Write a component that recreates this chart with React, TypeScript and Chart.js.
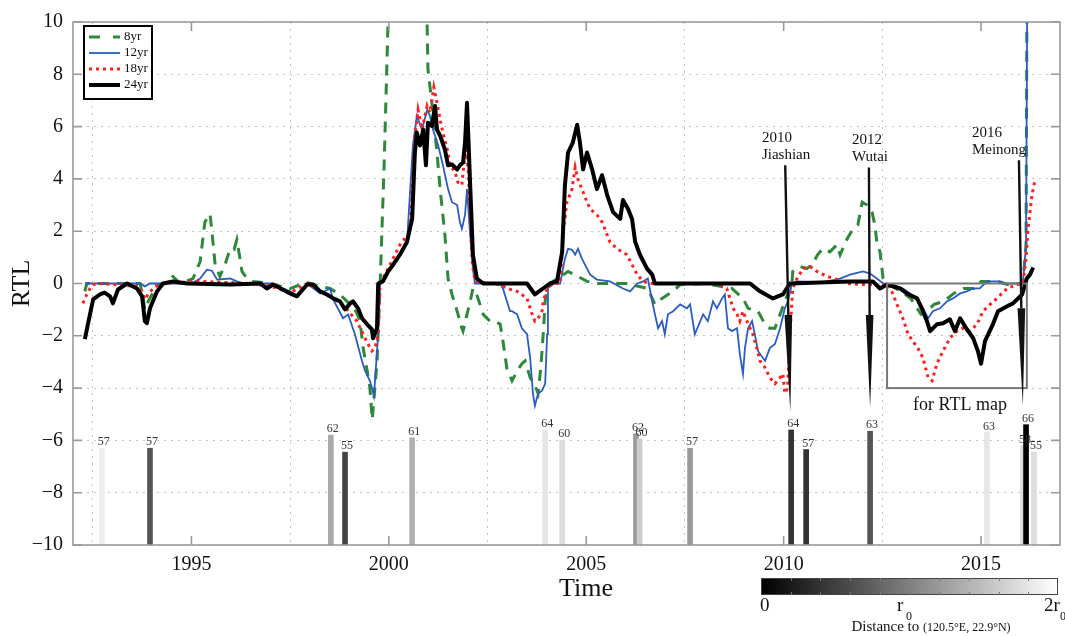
import React, { useEffect, useRef } from 'react';
import { Chart, registerables } from 'chart.js';

Chart.register(...registerables);

const SERIF = '"Liberation Serif", "Times New Roman", serif';

// ---------- DATA ----------
const xTicks = [1995, 2000, 2005, 2010, 2015];

const rtl8yr: [number, number][] = [
  [1992.30, -0.30], [1992.35, 0], [1993.70, 0], [1993.77, -0.5], [1993.82, -1.0], [1993.90, -0.7],
  [1994.00, -0.42], [1994.13, -0.04], [1994.33, 0], [1994.53, 0.27], [1994.71, 0], [1995.04, 0.19],
  [1995.22, 0.84], [1995.34, 2.35], [1995.47, 2.66], [1995.52, 1.98], [1995.60, 0.72], [1995.72, 0.27],
  [1995.85, 0.72], [1995.98, 1.33], [1996.08, 1.30], [1996.15, 1.67], [1996.23, 0.95], [1996.28, 0.46],
  [1996.41, 0.19], [1996.56, 0.08], [1997.0, 0], [1997.5, -0.2], [1997.9, 0.05], [1998.26, -0.11],
  [1998.51, -0.19], [1998.76, -0.42], [1998.94, -0.68], [1999.09, -0.87], [1999.19, -1.14],
  [1999.27, -1.44], [1999.35, -2.47], [1999.45, -3.34], [1999.52, -3.98], [1999.58, -5.2],
  [1999.70, -3.0], [1999.78, 0], [1999.88, 4.5], [1999.98, 10], [2000.04, 13], [2000.90, 13],
  [2000.97, 9.9], [2000.99, 8.2], [2001.09, 6.9], [2001.22, 5.0], [2001.30, 3.6], [2001.42, 1.86],
  [2001.50, 0.19], [2001.60, -0.42], [2001.73, -1.06], [2001.85, -1.71], [2001.88, -1.82],
  [2001.98, -1.18], [2002.06, -0.68], [2002.13, -0.19], [2002.20, -0.3], [2002.39, -1.18],
  [2002.56, -1.44], [2002.69, -1.44], [2002.82, -1.56], [2002.89, -2.2], [2002.99, -3.25],
  [2003.12, -3.72], [2003.25, -3.34], [2003.37, -3.07], [2003.45, -2.96], [2003.58, -3.6],
  [2003.70, -3.9], [2003.78, -4.2], [2003.85, -3.2], [2003.91, -1.94], [2003.96, -0.68],
  [2004.01, -0.19], [2004.08, 0], [2004.54, 0.46], [2004.79, 0.27], [2005.02, 0.08], [2005.3, 0],
  [2006.0, 0], [2006.56, -0.19], [2006.74, -0.8], [2006.92, -0.57], [2007.07, -0.42], [2007.20, -0.30],
  [2007.38, -0.04], [2008.0, 0], [2008.69, -0.19], [2008.97, -0.57], [2009.10, -0.95], [2009.35, -1.06],
  [2009.53, -1.56], [2009.65, -1.71], [2009.78, -1.71], [2009.91, -1.18], [2010.06, -0.57],
  [2010.21, -0.04], [2010.23, 0.46], [2010.41, 0.65], [2010.59, 0.57], [2010.74, 0.76], [2010.86, 1.10],
  [2010.99, 1.33], [2011.17, 1.21], [2011.35, 1.48], [2011.43, 1.10], [2011.61, 1.71], [2011.76, 2.09],
  [2011.88, 2.24], [2011.99, 3.11], [2012.11, 3.0], [2012.24, 2.73], [2012.31, 2.24], [2012.36, 1.59],
  [2012.44, 1.21], [2012.52, 0.19], [2012.62, 0], [2012.97, -0.30], [2013.22, -0.57], [2013.48, -1.18],
  [2013.63, -1.06], [2013.81, -0.80], [2014.06, -0.68], [2014.31, -0.38], [2014.57, -0.19],
  [2014.82, -0.19], [2015.0, 0.08], [2015.4, 0.08], [2015.66, -0.04], [2016.06, 0], [2016.14, 1.5],
  [2016.17, 14],
];

const rtl12yr: [number, number][] = [
  [1992.30, 0], [1993.70, 0], [1993.82, -0.11], [1993.95, 0], [1995.0, 0], [1995.22, 0.19],
  [1995.39, 0.53], [1995.52, 0.49], [1995.65, 0.15], [1995.98, 0.19], [1996.15, 0.08], [1996.3, 0],
  [1997.0, 0], [1997.5, -0.3], [1997.67, -0.45], [1997.93, 0], [1998.26, -0.38], [1998.51, -0.19],
  [1998.59, -0.61], [1998.84, -1.33], [1998.97, -1.18], [1999.14, -1.94], [1999.32, -2.96],
  [1999.40, -3.34], [1999.52, -3.72], [1999.57, -3.98], [1999.62, -4.3], [1999.65, -3.72],
  [1999.73, -1.94], [1999.78, 0], [1999.98, 0.46], [2000.28, 1.10], [2000.46, 1.59], [2000.61, 5.28],
  [2000.71, 6.41], [2000.84, 5.88], [2000.97, 6.64], [2001.04, 6.41], [2001.12, 5.88], [2001.25, 5.28],
  [2001.37, 4.52], [2001.50, 3.61], [2001.60, 3.11], [2001.73, 3.0], [2001.80, 2.35], [2001.85, 2.09],
  [2001.93, 2.62], [2001.98, 3.61], [2002.06, 1.86], [2002.13, 0.57], [2002.18, 0], [2002.82, 0],
  [2002.89, -0.19], [2002.99, -0.68], [2003.07, -1.06], [2003.12, -1.06], [2003.25, -1.18],
  [2003.37, -1.71], [2003.50, -1.94], [2003.58, -2.85], [2003.65, -4.21], [2003.70, -4.67],
  [2003.78, -4.21], [2003.88, -4.10], [2003.96, -3.83], [2004.01, -1.94], [2004.03, -0.19],
  [2004.16, 0], [2004.34, 0], [2004.46, 0.95], [2004.54, 1.33], [2004.64, 1.29], [2004.72, 1.10],
  [2004.79, 1.33], [2004.89, 0.95], [2005.02, 0.57], [2005.10, 0.34], [2005.27, 0.15], [2005.60, 0.08],
  [2005.93, -0.19], [2006.11, -0.30], [2006.29, 0], [2006.44, 0.08], [2006.56, 0.19], [2006.67, -0.68],
  [2006.74, -1.18], [2006.82, -1.71], [2006.92, -1.44], [2006.99, -1.94], [2007.07, -1.18],
  [2007.20, -1.06], [2007.38, -0.80], [2007.55, -0.95], [2007.63, -0.80], [2007.75, -1.94],
  [2007.96, -1.18], [2008.08, -1.44], [2008.21, -0.68], [2008.31, -0.95], [2008.44, -0.57],
  [2008.51, -0.42], [2008.59, -1.71], [2008.69, -1.82], [2008.82, -1.71], [2008.89, -2.69],
  [2008.97, -3.45], [2009.02, -2.47], [2009.10, -1.71], [2009.20, -1.44], [2009.27, -1.94],
  [2009.35, -2.58], [2009.53, -2.96], [2009.65, -2.47], [2009.78, -2.31], [2009.91, -1.71],
  [2010.03, -0.95], [2010.11, -0.68], [2010.21, 0], [2010.34, 0.08], [2011.0, 0.05], [2011.43, 0.19],
  [2011.68, 0.34], [2012.01, 0.46], [2012.19, 0.38], [2012.36, 0.19], [2012.52, 0], [2012.77, -0.04],
  [2013.02, -0.19], [2013.20, -0.38], [2013.38, -0.57], [2013.53, -0.95], [2013.66, -1.33],
  [2013.78, -1.06], [2013.96, -0.95], [2014.14, -0.68], [2014.29, -0.57], [2014.47, -0.38],
  [2014.64, -0.30], [2014.80, -0.19], [2014.97, -0.19], [2015.15, 0.08], [2015.48, 0.08],
  [2015.66, 0], [2016.06, 0], [2016.14, 1.48], [2016.18, 14],
];

const rtl18yr: [number, number][] = [
  [1992.25, -0.76], [1992.35, -0.42], [1992.43, -0.19], [1992.51, -0.04], [1992.68, 0],
  [1993.62, -0.11], [1993.75, -0.30], [1993.82, -0.61], [1993.90, -0.42], [1994.03, -0.19],
  [1994.20, 0], [1995.22, 0.08], [1996.5, 0], [1997.0, -0.1], [1997.5, -0.35], [1997.93, 0],
  [1998.26, -0.3], [1998.59, -0.55], [1998.89, -0.9], [1999.19, -1.44], [1999.35, -1.94],
  [1999.47, -2.31], [1999.57, -2.58], [1999.65, -2.47], [1999.73, -1.94], [1999.78, 0],
  [1999.98, 0.57], [2000.28, 1.48], [2000.54, 1.98], [2000.66, 5.65], [2000.74, 6.64], [2000.84, 5.88],
  [2000.97, 6.79], [2001.04, 6.53], [2001.14, 7.5], [2001.22, 6.91], [2001.30, 6.26], [2001.37, 5.77],
  [2001.48, 5.12], [2001.55, 4.52], [2001.68, 4.25], [2001.75, 3.87], [2001.85, 3.76], [2001.88, 4.25],
  [2001.95, 5.12], [2002.01, 4.36], [2002.11, 0.84], [2002.18, 0.08], [2002.82, -0.04],
  [2002.99, -0.19], [2003.25, -0.30], [2003.50, -0.57], [2003.63, -1.18], [2003.70, -1.44],
  [2003.78, -1.33], [2003.88, -1.06], [2003.91, -0.68], [2004.01, -0.19], [2004.16, 0], [2004.34, 0],
  [2004.41, 1.86], [2004.51, 3.11], [2004.64, 3.61], [2004.72, 4.44], [2004.79, 3.98], [2004.89, 3.61],
  [2005.02, 3.11], [2005.10, 2.85], [2005.27, 2.62], [2005.40, 2.35], [2005.47, 2.09], [2005.60, 1.59],
  [2005.78, 1.33], [2005.91, 1.21], [2006.03, 1.10], [2006.16, 0.72], [2006.29, 0.34], [2006.44, 0.08],
  [2006.62, 0], [2008.31, 0], [2008.56, -0.19], [2008.64, -0.57], [2008.72, -0.95], [2008.82, -1.18],
  [2008.89, -1.44], [2008.97, -1.06], [2009.07, -1.44], [2009.15, -1.71], [2009.22, -1.94],
  [2009.32, -2.47], [2009.40, -2.96], [2009.53, -3.22], [2009.65, -3.60], [2009.78, -3.83],
  [2009.91, -3.60], [2009.98, -3.45], [2010.03, -4.2], [2010.10, -4.0], [2010.16, -1.94],
  [2010.23, -0.19], [2010.34, 0.19], [2010.49, 0.57], [2010.67, 0.65], [2010.84, 0.46], [2011.10, 0.27],
  [2011.35, 0.15], [2011.61, 0], [2011.94, -0.04], [2012.26, -0.04], [2012.44, -0.11], [2012.62, 0],
  [2012.74, -0.30], [2012.87, -0.80], [2013.02, -1.33], [2013.15, -1.94], [2013.27, -2.20],
  [2013.40, -2.47], [2013.53, -2.85], [2013.66, -3.6], [2013.76, -3.72], [2013.88, -3.07],
  [2014.04, -2.58], [2014.21, -2.09], [2014.39, -1.82], [2014.54, -1.71], [2014.72, -1.82],
  [2014.90, -1.56], [2015.05, -1.06], [2015.23, -0.80], [2015.40, -0.57], [2015.66, -0.19],
  [2015.91, -0.04], [2016.06, 0], [2016.14, 0.95], [2016.19, 2.09], [2016.29, 3.38], [2016.37, 3.98],
];

const rtl24yr: [number, number][] = [
  [1992.30, -2.13], [1992.43, -1.18], [1992.51, -0.61], [1992.68, -0.42], [1992.80, -0.35],
  [1992.94, -0.49], [1993.01, -0.76], [1993.14, -0.23], [1993.37, 0], [1993.62, -0.19],
  [1993.75, -0.49], [1993.82, -1.44], [1993.87, -1.52], [1993.95, -0.95], [1994.13, -0.30],
  [1994.28, 0], [1994.53, 0.08], [1994.89, 0], [1995.98, -0.04], [1996.74, 0], [1996.91, -0.19],
  [1997.07, -0.04], [1997.50, -0.38], [1997.67, -0.49], [1997.93, -0.04], [1998.08, -0.04],
  [1998.26, -0.30], [1998.43, -0.42], [1998.59, -0.57], [1998.76, -0.68], [1998.89, -0.99],
  [1999.02, -0.76], [1999.09, -0.68], [1999.22, -0.95], [1999.32, -1.33], [1999.45, -1.56],
  [1999.57, -1.75], [1999.60, -2.09], [1999.70, -1.71], [1999.73, 0], [1999.85, 0.08],
  [1999.98, 0.46], [2000.11, 0.72], [2000.28, 1.10], [2000.46, 1.59], [2000.59, 2.47],
  [2000.66, 5.01], [2000.71, 5.77], [2000.79, 5.28], [2000.87, 5.88], [2000.94, 4.52],
  [2000.99, 6.15], [2001.09, 6.03], [2001.17, 6.79], [2001.22, 5.88], [2001.30, 5.65],
  [2001.42, 5.12], [2001.50, 4.52], [2001.60, 4.55], [2001.73, 4.36], [2001.80, 4.52],
  [2001.88, 4.63], [2001.93, 5.39], [2001.98, 6.91], [2002.06, 3.76], [2002.13, 1.10],
  [2002.23, 0.19], [2002.39, 0], [2003.50, 0], [2003.70, -0.42], [2004.08, 0], [2004.26, 0.08],
  [2004.39, 1.21], [2004.46, 3.76], [2004.54, 5.01], [2004.66, 5.39], [2004.77, 6.07],
  [2004.84, 5.39], [2004.92, 4.36], [2005.02, 5.01], [2005.15, 4.36], [2005.27, 3.61],
  [2005.40, 4.14], [2005.53, 3.38], [2005.68, 2.73], [2005.86, 2.47], [2005.93, 3.19],
  [2006.06, 2.85], [2006.16, 2.47], [2006.24, 1.59], [2006.36, 1.10], [2006.54, 0.57],
  [2006.67, 0.34], [2006.74, 0], [2009.15, 0], [2009.40, -0.30], [2009.73, -0.57], [2009.98, -0.42],
  [2010.16, 0], [2011.68, 0.08], [2012.26, 0.08], [2012.44, -0.19], [2012.62, -0.04],
  [2012.95, -0.19], [2013.12, -0.38], [2013.38, -0.57], [2013.50, -0.95], [2013.63, -1.44],
  [2013.71, -1.82], [2013.88, -1.56], [2014.04, -1.52], [2014.21, -1.37], [2014.34, -1.82],
  [2014.47, -1.33], [2014.64, -1.75], [2014.80, -2.09], [2014.92, -2.58], [2015.00, -3.07],
  [2015.10, -2.20], [2015.30, -1.56], [2015.43, -1.06], [2015.66, -0.87], [2015.81, -0.76],
  [2016.04, -0.42], [2016.16, 0.19], [2016.24, 0.34], [2016.32, 0.61],
];

// earthquakes at bottom: time, bar top (RTL axis units), magnitude label, distance (in r0)
const quakeYears = [1992.73, 1993.95, 1998.53, 1998.89, 2000.59, 2003.96, 2004.39, 2006.26, 2006.35,
  2007.63, 2010.19, 2010.57, 2012.19, 2015.15, 2016.06, 2016.14, 2016.34];
const quakeTops = [-6.3, -6.3, -5.8, -6.45, -5.9, -5.6, -6.0, -5.75, -5.95, -6.3, -5.6, -6.35, -5.65,
  -5.7, -6.2, -5.4, -6.45];
const quakeMags = ['57', '57', '62', '55', '61', '64', '60', '62', '60', '57', '64', '57', '63', '63',
  '58', '66', '55'];
const quakeDist = [1.87, 0.67, 1.33, 0.53, 1.38, 1.8, 1.73, 1.2, 1.6, 1.2, 0.4, 0.4, 0.67, 1.8, 1.73, 0.0,
  1.73];

// annotated events
const eventNames = [['2010', 'Jiashian'], ['2012', 'Wutai'], ['2016', 'Meinong']];
const eventTopYear = [2010.04, 2012.16, 2015.96];
const eventTopVal = [4.52, 4.44, 4.71];
const eventTipYear = [2010.17, 2012.19, 2016.06];
const eventTipVal = [-4.9, -4.74, -4.67];
const eventHeadVal = [-1.2, -1.2, -0.95];
const eventLabelYear = [2009.45, 2011.73, 2014.77];

const rtlMapBox = { x0: 2012.62, x1: 2016.16, y0: -4, y1: 0 };

const seriesNames = ['8yr', '12yr', '18yr', '24yr'];
const seriesColors = ['rgb(46,135,58)', 'rgb(44,92,190)', 'rgb(255,32,32)', '#000000'];

const grayOf = (d: number) => {
  const g = Math.round(Math.max(0, Math.min(1, d / 2)) * 255);
  return `rgb(${g},${g},${g})`;
};

const toXY = (arr: [number, number][]) => arr.map(([x, y]) => ({ x, y }));

const decorPlugin = {
  id: 'decor',
  afterDatasetsDraw(chart: any) {
    const { ctx, chartArea: ca, scales } = chart;
    const xs = scales.x, ys = scales.y;
    ctx.save();
    // RTL map box
    ctx.strokeStyle = '#777';
    ctx.lineWidth = 2;
    const bx0 = xs.getPixelForValue(rtlMapBox.x0), bx1 = xs.getPixelForValue(rtlMapBox.x1);
    const by0 = ys.getPixelForValue(rtlMapBox.y1), by1 = ys.getPixelForValue(rtlMapBox.y0);
    ctx.strokeRect(bx0, by0, bx1 - bx0, by1 - by0);
    ctx.fillStyle = '#111';
    ctx.font = `18px ${SERIF}`;
    ctx.textAlign = 'center';
    ctx.textBaseline = 'alphabetic';
    ctx.fillText('for RTL map', (bx0 + bx1) / 2 + 3, by1 + 22);

    // arrows
    for (let i = 0; i < eventNames.length; i++) {
      const tx = xs.getPixelForValue(eventTopYear[i]);
      const ty = ys.getPixelForValue(eventTopVal[i]);
      const px = xs.getPixelForValue(eventTipYear[i]);
      const py = ys.getPixelForValue(eventTipVal[i]);
      const hy = ys.getPixelForValue(eventHeadVal[i]);
      const t = (hy - ty) / (py - ty);
      const hx = tx + (px - tx) * t;
      ctx.fillStyle = '#111';
      ctx.beginPath();
      ctx.moveTo(tx - 1.2, ty);
      ctx.lineTo(tx + 1.2, ty);
      ctx.lineTo(hx + 1.2, hy);
      ctx.lineTo(hx - 1.2, hy);
      ctx.closePath();
      ctx.fill();
      ctx.beginPath();
      ctx.moveTo(hx - 3.8, hy);
      ctx.lineTo(hx + 3.8, hy);
      ctx.lineTo(px, py);
      ctx.closePath();
      ctx.fill();
      const lx = xs.getPixelForValue(eventLabelYear[i]);
      ctx.font = `15px ${SERIF}`;
      ctx.textAlign = 'left';
      ctx.fillStyle = '#111';
      ctx.fillText(eventNames[i][0], lx, ty - 23);
      ctx.fillText(eventNames[i][1], lx, ty - 6);
    }

    // bar labels
    const barMeta = chart.getDatasetMeta(4);
    ctx.font = `12px ${SERIF}`;
    ctx.fillStyle = '#333';
    ctx.textAlign = 'center';
    barMeta.data.forEach((el: any, i: number) => {
      const top = Math.min(el.y, el.base);
      ctx.fillText(quakeMags[i], el.x + 2, top - 3);
    });

    // frame and inward ticks
    ctx.strokeStyle = '#9a9a9a';
    ctx.lineWidth = 1.6;
    ctx.strokeRect(ca.left, ca.top, ca.right - ca.left, ca.bottom - ca.top);
    ctx.beginPath();
    ys.ticks.forEach((tk: any) => {
      const y = ys.getPixelForValue(tk.value);
      ctx.moveTo(ca.left, y); ctx.lineTo(ca.left + 9, y);
      ctx.moveTo(ca.right, y); ctx.lineTo(ca.right - 9, y);
    });
    xs.ticks.forEach((tk: any) => {
      const x = xs.getPixelForValue(tk.value);
      ctx.moveTo(x, ca.bottom); ctx.lineTo(x, ca.bottom - 9);
      ctx.moveTo(x, ca.top); ctx.lineTo(x, ca.top + 9);
    });
    ctx.stroke();

    // legend
    const lgX = 84, lgY = 26, lgW = 68, lgH = 73;
    ctx.fillStyle = '#fff';
    ctx.fillRect(lgX, lgY, lgW, lgH);
    ctx.strokeStyle = '#000';
    ctx.lineWidth = 2;
    ctx.strokeRect(lgX, lgY, lgW, lgH);
    chart.data.datasets.slice(0, 4).forEach((ds: any, i: number) => {
      const yy = lgY + 11 + i * 16;
      ctx.save();
      ctx.strokeStyle = ds.borderColor;
      ctx.lineWidth = ds.borderWidth;
      ctx.setLineDash(i === 0 ? [11, 13] : (ds.borderDash || []));
      ctx.beginPath();
      ctx.moveTo(lgX + 5, yy);
      ctx.lineTo(lgX + 36, yy);
      ctx.stroke();
      ctx.restore();
      ctx.fillStyle = '#111';
      ctx.font = `13px ${SERIF}`;
      ctx.textAlign = 'left';
      ctx.textBaseline = 'middle';
      ctx.fillText(ds.label, lgX + 40, yy);
    });
    ctx.restore();
  },
  afterDraw(chart: any) {
    const { ctx, chartArea: ca } = chart;
    ctx.save();
    // axis titles
    ctx.fillStyle = '#111';
    ctx.font = `26px ${SERIF}`;
    ctx.textAlign = 'center';
    ctx.textBaseline = 'middle';
    ctx.fillText('Time', 586, 589);
    ctx.translate(22, (ca.top + ca.bottom) / 2);
    ctx.rotate(-Math.PI / 2);
    ctx.fillText('RTL', 0, 0);
    ctx.restore();

    // colorbar
    ctx.save();
    const cx0 = 761, cx1 = 1058, cy0 = 578, cy1 = 595;
    const grad = ctx.createLinearGradient(cx0, 0, cx1, 0);
    grad.addColorStop(0, '#000');
    grad.addColorStop(1, '#fff');
    ctx.fillStyle = grad;
    ctx.fillRect(cx0, cy0, cx1 - cx0, cy1 - cy0);
    ctx.strokeStyle = '#444';
    ctx.lineWidth = 1;
    ctx.strokeRect(cx0 + 0.5, cy0 + 0.5, cx1 - cx0 - 1, cy1 - cy0 - 1);
    ctx.strokeStyle = '#777';
    ctx.beginPath();
    for (let k = 1; k < 10; k++) {
      const x = Math.round(cx0 + (cx1 - cx0) * k / 10) + 0.5;
      ctx.moveTo(x, cy0); ctx.lineTo(x, cy0 + 3);
      ctx.moveTo(x, cy1); ctx.lineTo(x, cy1 - 3);
    }
    ctx.stroke();
    ctx.fillStyle = '#111';
    ctx.textBaseline = 'alphabetic';
    ctx.font = `19px ${SERIF}`;
    ctx.textAlign = 'left';
    ctx.fillText('0', 760, 611);
    ctx.fillText('r', 897, 611);
    ctx.fillText('2r', 1044, 611);
    ctx.font = `12px ${SERIF}`;
    ctx.fillText('0', 906, 620);
    ctx.fillText('0', 1060, 620);
    ctx.font = `15px ${SERIF}`;
    const t1 = 'Distance to ';
    const w1 = ctx.measureText(t1).width;
    ctx.font = `12px ${SERIF}`;
    const t2 = '(120.5°E, 22.9°N)';
    const w2 = ctx.measureText(t2).width;
    const start = 931 - (w1 + w2) / 2;
    ctx.font = `15px ${SERIF}`;
    ctx.fillText(t1, start, 631);
    ctx.font = `12px ${SERIF}`;
    ctx.fillText(t2, start + w1, 631);
    ctx.restore();
  },
};

export default function App() {
  const ref = useRef<HTMLCanvasElement>(null);
  useEffect(() => {
    const canvas = ref.current;
    if (!canvas) return;
    const gridOpts = { color: '#c6c6c6', lineWidth: 1, drawTicks: false };
    const chart = new Chart(canvas, {
      type: 'line',
      data: {
        datasets: [
          {
            type: 'line', label: seriesNames[0], data: toXY(rtl8yr), borderColor: seriesColors[0],
            borderWidth: 3, borderDash: [11, 8], pointRadius: 0, tension: 0, fill: false, order: 3,
          },
          {
            type: 'line', label: seriesNames[1], data: toXY(rtl12yr), borderColor: seriesColors[1],
            borderWidth: 1.8, pointRadius: 0, tension: 0, fill: false, order: 2,
          },
          {
            type: 'line', label: seriesNames[2], data: toXY(rtl18yr), borderColor: seriesColors[2],
            borderWidth: 3, borderDash: [3, 4], pointRadius: 0, tension: 0, fill: false, order: 1,
          },
          {
            type: 'line', label: seriesNames[3], data: toXY(rtl24yr), borderColor: seriesColors[3],
            borderWidth: 4, pointRadius: 0, tension: 0, fill: false, order: 0,
            borderJoinStyle: 'round',
          },
          {
            type: 'bar', label: 'quakes',
            data: quakeYears.map((x, i) => ({ x, y: [-10, quakeTops[i]] })) as any,
            backgroundColor: quakeDist.map(grayOf), borderWidth: 0, barThickness: 5, order: 4,
          },
        ] as any,
      },
      options: {
        responsive: false,
        animation: false,
        devicePixelRatio: 1,
        layout: { padding: { top: 18, right: 5, left: 0, bottom: 0 } },
        plugins: { legend: { display: false }, tooltip: { enabled: false } },
        scales: {
          x: {
            type: 'linear', min: 1992, max: 2017, offset: false,
            afterBuildTicks: (s: any) => { s.ticks = xTicks.map((v) => ({ value: v })); },
            afterFit: (s: any) => { s.height = 91; },
            grid: gridOpts,
            border: { display: false, dash: [2, 5] },
            ticks: {
              font: { family: SERIF, size: 20 }, color: '#111', padding: 8, maxRotation: 0,
              callback: (v: any) => String(v),
            },
          },
          y: {
            type: 'linear', min: -10, max: 10,
            afterFit: (s: any) => { s.width = 73; },
            grid: gridOpts,
            border: { display: false, dash: [2, 5] },
            ticks: {
              stepSize: 2, font: { family: SERIF, size: 20 }, color: '#111', padding: 10,
              callback: (v: any) => String(v).replace('-', '\u2212'),
            },
          },
        },
      } as any,
      plugins: [decorPlugin],
    });
    return () => chart.destroy();
  }, []);
  return (
    <div style={{ position: 'absolute', left: 0, top: 0, width: 1065, height: 636, background: '#fff' }}>
      <canvas ref={ref} width={1065} height={636} style={{ display: 'block', width: 1065, height: 636 }} />
    </div>
  );
}
